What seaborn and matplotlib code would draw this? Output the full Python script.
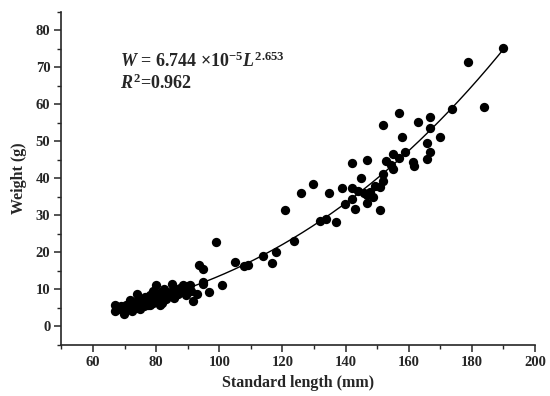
import numpy as np
import pandas as pd
import matplotlib
matplotlib.use("Agg")
import matplotlib.pyplot as plt
import seaborn as sns

# standard length (mm) and weight (g)
length = [67.0, 67.0, 67.5, 68.5, 69.0, 69.8, 70.0, 70.5, 71.0, 71.7, 72.0, 72.5, 73.0, 73.5,
          73.8, 74.0, 74.5, 74.9, 75.0, 75.5, 76.0, 76.5, 76.8, 77.0, 77.5, 78.0, 78.0, 78.5,
          79.0, 79.0, 79.5, 80.0, 80.2, 80.5, 81.0, 81.2, 81.5, 82.0, 82.0, 82.5, 83.0, 83.3,
          83.5, 84.0, 84.9, 85.0, 85.5, 86.0, 86.5, 87.0, 87.5, 88.0, 88.6, 88.6, 89.0, 89.5,
          90.2, 90.7, 91.0, 91.8, 92.8, 94.9, 94.9, 96.9, 101.0,
          93.7, 94.8, 98.9, 105.0, 107.9, 109.0, 113.9, 117.9, 116.8, 120.8, 123.8, 125.8,
          129.8, 131.9, 133.8, 134.9, 137.0, 138.9, 139.8, 141.9, 141.9, 141.9, 143.0, 144.0,
          144.9, 145.8, 146.9, 146.9, 146.9, 147.7, 148.8, 149.3, 150.9, 150.9, 152.0, 151.8,
          152.8, 151.8, 154.5, 155.0, 155.0, 157.0, 157.8, 156.9, 158.8, 161.3, 161.8, 162.9,
          165.8, 165.8, 166.9, 166.9, 166.9, 169.8, 173.8, 178.8, 183.9, 189.8]
weight = [5.9, 4.3, 5.2, 4.8, 5.6, 3.4, 4.5, 5.8, 4.9, 7.2, 5.5, 4.2, 6.3, 5.0,
          8.8, 6.8, 5.6, 4.8, 7.5, 6.2, 5.4, 8.0, 6.7, 7.3, 5.8, 5.7, 8.5, 7.0,
          6.3, 9.5, 7.8, 11.3, 8.8, 6.8, 7.5, 5.7, 9.3, 8.2, 6.4, 10.0, 7.4, 7.9,
          9.0, 8.5, 11.5, 9.6, 7.6, 10.2, 9.3, 8.8, 10.4, 9.8, 11.1, 9.3, 10.0, 8.5,
          10.8, 11.1, 9.6, 6.8, 8.8, 12.0, 11.5, 9.3, 11.1,
          16.5, 15.4, 22.8, 17.4, 16.3, 16.7, 18.9, 20.0, 17.2, 31.5, 23.2, 36.1,
          38.6, 28.5, 29.0, 36.1, 28.2, 37.3, 33.2, 37.3, 34.3, 44.2, 31.6, 36.6,
          40.2, 36.0, 44.9, 35.4, 33.3, 36.3, 35.0, 38.0, 37.7, 31.4, 39.2, 41.3,
          44.6, 54.3, 43.5, 42.6, 46.5, 45.6, 51.2, 57.8, 47.1, 44.4, 43.4, 55.2,
          49.7, 45.3, 56.5, 53.6, 47.1, 51.1, 58.7, 71.4, 59.2, 75.2]

# fitted power curve W = a * L^b
a_coef = 6.744e-5
b_coef = 2.653
fit_range = (67, 190)

df = pd.DataFrame({"length": length, "weight": weight})
fit_x = np.linspace(fit_range[0], fit_range[1], 200)
fit = pd.DataFrame({"length": fit_x, "weight": a_coef * fit_x ** b_coef})

sns.set_style("ticks")
plt.rcParams["font.family"] = ["Liberation Serif", "DejaVu Serif"]
plt.rcParams["font.weight"] = "bold"
plt.rcParams["mathtext.fontset"] = "custom"
plt.rcParams["mathtext.rm"] = "Liberation Serif:bold"
plt.rcParams["mathtext.it"] = "Liberation Serif:italic:bold"
plt.rcParams["mathtext.bf"] = "Liberation Serif:bold"

fig = plt.figure(figsize=(5.5, 3.96), dpi=100)
ax = fig.add_axes([0.1117, 0.129, 0.861, 0.841])

sns.scatterplot(data=df, x="length", y="weight", ax=ax, color="black",
                s=45, edgecolor="black", linewidth=0, zorder=3)
sns.lineplot(data=fit, x="length", y="weight", ax=ax, color="black", lw=1.0, zorder=2)

ax.set_xlim(50, 200)
ax.set_ylim(-5, 85)
ax.set_xticks(range(60, 201, 20))
ax.set_xticks(range(50, 201, 10), minor=True)
ax.set_yticks(range(0, 81, 10))
ax.set_yticks(range(-5, 86, 5), minor=True)
sns.despine(ax=ax)
for sp in ["left", "bottom"]:
    ax.spines[sp].set_linewidth(1.2)
ax.tick_params(which="major", direction="out", length=5, width=1.1, labelsize=10.5, pad=3)
ax.tick_params(which="minor", direction="out", length=3, width=1.0)
for lab in ax.get_xticklabels() + ax.get_yticklabels():
    lab.set_fontweight("bold")

ax.set_xlabel("Standard length (mm)", fontsize=11.5, fontweight="bold", labelpad=4)
ax.set_ylabel("Weight (g)", fontsize=11.5, fontweight="bold", labelpad=6)

ax.text(68.6, 70.0, r"$W$ = 6.744 ×10$^{-5}$$L^{2.653}$", fontsize=13, fontweight="bold",
        va="baseline")
ax.text(68.6, 64.1, r"$R^2$=0.962", fontsize=13, fontweight="bold", va="baseline")

fig.savefig("out.png", dpi=100)
